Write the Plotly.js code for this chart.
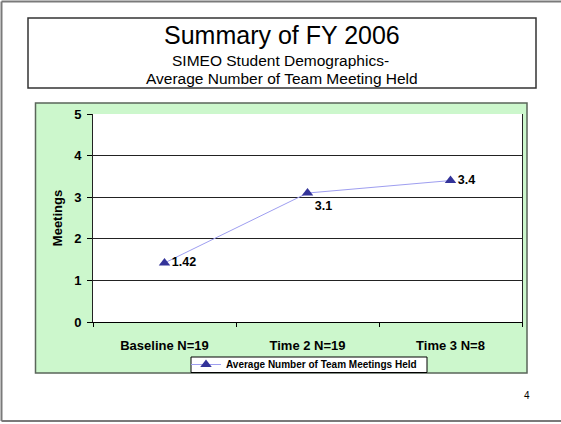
<!DOCTYPE html>
<html>
<head>
<meta charset="utf-8">
<script src="https://cdn.plot.ly/plotly-3.0.1.min.js"></script>
<style>html,body{margin:0;padding:0;background:#fff;}#chart{width:561px;height:424px;}</style>
</head>
<body>
<div id="chart"></div>
<script>
// ---- data ----
const categories = ["Baseline N=19", "Time 2 N=19", "Time 3 N=8"];
const meetings = [1.42, 3.1, 3.4];
const valueLabels = ["1.42", "3.1", "3.4"];
const seriesName = "Average Number of Team Meetings Held";
const titleMain = "Summary of FY 2006";
const titleSub1 = "SIMEO Student Demographics-";
const titleSub2 = "Average Number of Team Meeting Held";
const yTitle = "Meetings";
const yTicks = [0, 1, 2, 3, 4, 5];
const pageNumber = "4";

// ---- layout geometry (pixels -> paper) ----
const W = 561, H = 424;
const PL = 93, PR = 522, PT = 114, PB = 322;
const X = px => (px - PL) / (PR - PL);
const Y = py => (PB - py) / (PB - PT);
const FONT = "Liberation Sans, Arial, Helvetica, sans-serif";

const trace = {
  type: "scatter",
  mode: "lines+markers+text",
  x: categories,
  y: meetings,
  text: valueLabels,
  textposition: ["middle right", "bottom right", "middle right"],
  textfont: {family: FONT, size: 12.5, color: "#000", weight: "bold"},
  name: seriesName,
  line: {color: "#9e9ef0", width: 1},
  marker: {symbol: "triangle-up", size: 10, color: "#333399"},
  cliponaxis: false,
  hoverinfo: "skip"
};

const border = {color: "#7a7a7a", width: 2};

const layout = {
  width: W, height: H,
  margin: {l: PL, r: W - PR, t: PT, b: H - PB, pad: 0},
  paper_bgcolor: "#fff",
  plot_bgcolor: "rgba(0,0,0,0)",
  font: {family: FONT, color: "#000"},
  showlegend: true,
  legend: {
    x: X(186), y: Y(350), xanchor: "left", yanchor: "top",
    bgcolor: "rgba(0,0,0,0)", borderwidth: 0,
    font: {family: FONT, size: 10, color: "#000", weight: "bold"},
    itemwidth: 30, tracegroupgap: 0
  },
  xaxis: {
    type: "category",
    range: [-0.5, 2.5],
    tickson: "boundaries",
    ticks: "outside", ticklen: 4, tickcolor: "#000", tickwidth: 1,
    showline: true, linecolor: "#000", linewidth: 1,
    showgrid: false, zeroline: false,
    tickfont: {family: FONT, size: 13, color: "#000", weight: "bold"},
    ticklabelstandoff: 11,
    fixedrange: true
  },
  yaxis: {
    range: [0, 5],
    tickvals: yTicks,
    ticks: "outside", ticklen: 5, tickcolor: "#000", tickwidth: 1,
    showline: true, linecolor: "#222", linewidth: 1, mirror: true,
    showgrid: true, gridcolor: "#222", gridwidth: 1,
    zeroline: false,
    tickfont: {family: FONT, size: 13, color: "#000", weight: "bold"},
    ticklabelstandoff: 3,
    title: {text: yTitle, font: {family: FONT, size: 13, color: "#000", weight: "bold"}, standoff: 8},
    fixedrange: true
  },
  shapes: [
    // slide border (top, left, bottom; right edge is off-page)
    {type: "line", xref: "paper", yref: "paper", x0: X(1.5), x1: X(561), y0: Y(1.5), y1: Y(1.5), line: border, layer: "below"},
    {type: "line", xref: "paper", yref: "paper", x0: X(1.5), x1: X(1.5), y0: Y(1.5), y1: Y(421), line: border, layer: "below"},
    {type: "line", xref: "paper", yref: "paper", x0: X(1.5), x1: X(561), y0: Y(421), y1: Y(421), line: border, layer: "below"},
    // title box
    {type: "rect", xref: "paper", yref: "paper", x0: X(28), x1: X(536), y0: Y(18), y1: Y(88),
     line: {color: "#333", width: 1.5}, fillcolor: "#fff", layer: "below"},
    // chart area (green)
    {type: "rect", xref: "paper", yref: "paper", x0: X(35.5), x1: X(527), y0: Y(103), y1: Y(373),
     line: {color: "#5a665a", width: 1.5}, fillcolor: "#ccf7cc", layer: "below"},
    // plot area (white)
    {type: "rect", xref: "paper", yref: "paper", x0: 0, x1: 1, y0: 0, y1: 1,
     line: {width: 0}, fillcolor: "#fff", layer: "below"},
    // legend box
    {type: "rect", xref: "paper", yref: "paper", x0: X(191), x1: X(427), y0: Y(357), y1: Y(372.5),
     line: {color: "#000", width: 1}, fillcolor: "#fff", layer: "below"}
  ],
  annotations: [
    {xref: "paper", yref: "paper", x: X(282), y: Y(35), xanchor: "center", yanchor: "middle",
     text: titleMain, showarrow: false, font: {family: FONT, size: 25, color: "#000"}},
    {xref: "paper", yref: "paper", x: X(280), y: Y(60.5), xanchor: "center", yanchor: "middle",
     text: titleSub1, showarrow: false, font: {family: FONT, size: 15.5, color: "#000"}},
    {xref: "paper", yref: "paper", x: X(282), y: Y(78.5), xanchor: "center", yanchor: "middle",
     text: titleSub2, showarrow: false, font: {family: FONT, size: 15.5, color: "#000"}},
    {xref: "paper", yref: "paper", x: X(527), y: Y(395), xanchor: "center", yanchor: "middle",
     text: pageNumber, showarrow: false, font: {family: FONT, size: 10, color: "#000"}}
  ]
};

Plotly.newPlot("chart", [trace], layout, {staticPlot: true, displayModeBar: false});
</script>
</body>
</html>
